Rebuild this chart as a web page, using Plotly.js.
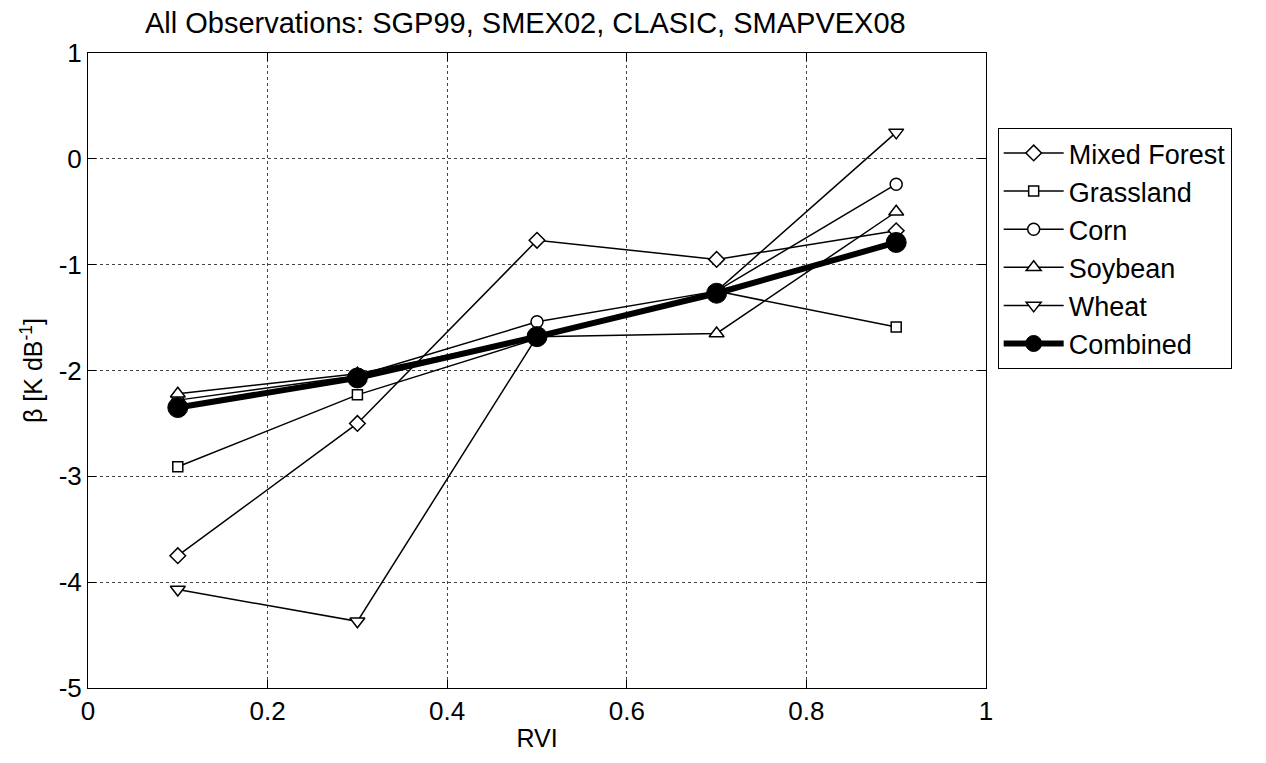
<!DOCTYPE html>
<html>
<head>
<meta charset="utf-8">
<script src="https://cdn.plot.ly/plotly-3.0.1.min.js"></script>
<style>html,body{margin:0;padding:0;background:#fff;}#chart{width:1266px;height:763px;}</style>
</head>
<body>
<div id="chart"></div>
<script>
const rvi = [0.1, 0.3, 0.5, 0.7, 0.9];
const mixedForest = [-3.75, -2.50, -0.77, -0.95, -0.68];
const grassland   = [-2.91, -2.23, -1.70, -1.25, -1.59];
const corn        = [-2.28, -2.05, -1.54, -1.25, -0.24];
const soybean     = [-2.22, -2.03, -1.68, -1.65, -0.50];
const wheat       = [-4.07, -4.37, -1.68, -1.25, 0.25];
const combined    = [-2.35, -2.07, -1.68, -1.27, -0.79];
const xTicks = [0, 0.2, 0.4, 0.6, 0.8, 1];
const xTickText = ['0', '0.2', '0.4', '0.6', '0.8', '1'];
const yTicks = [-5, -4, -3, -2, -1, 0, 1];
const yTickText = ['-5', '-4', '-3', '-2', '-1', '0', '1'];

function thin(name, y, symbol, size) {
  return {
    x: rvi, y: y, name: name, type: 'scatter', mode: 'lines+markers',
    line: {color: '#000', width: 1.5},
    marker: {symbol: symbol, size: size, color: '#fff', line: {color: '#000', width: 1.5}}
  };
}
const traces = [
  thin('Mixed Forest', mixedForest, 'diamond', 12),
  thin('Grassland', grassland, 'square', 10),
  thin('Corn', corn, 'circle', 12),
  thin('Soybean', soybean, 'triangle-up', 13),
  thin('Wheat', wheat, 'triangle-down', 13),
  {x: rvi, y: combined, name: 'Combined', type: 'scatter', mode: 'lines+markers',
   line: {color: '#000', width: 6},
   marker: {symbol: 'circle', size: 20, color: '#000', line: {color: '#000', width: 1}}}
];

const axisCommon = {
  showline: true, linecolor: '#000', linewidth: 1, mirror: 'ticks',
  ticks: 'inside', ticklen: 8, tickcolor: '#000', tickwidth: 1,
  showgrid: true, gridcolor: '#444', gridwidth: 1, griddash: 'dot',
  zeroline: false,
  tickfont: {family: 'Liberation Sans, Arial, sans-serif', size: 26, color: '#000'}
};

const layout = {
  width: 1266, height: 763,
  margin: {l: 88, r: 280, t: 53, b: 75},
  paper_bgcolor: '#fff', plot_bgcolor: '#fff',
  font: {family: 'Liberation Sans, Arial, sans-serif', color: '#000'},
  title: {text: 'All Observations: SGP99, SMEX02, CLASIC, SMAPVEX08',
          font: {size: 29, color: '#000'}, xref: 'paper', x: 0.487, xanchor: 'center',
          yref: 'container', y: 0.97, yanchor: 'middle'},
  xaxis: Object.assign({}, axisCommon, {
    range: [0, 1], tickvals: xTicks, ticktext: xTickText,
    title: {text: 'RVI', font: {size: 25, color: '#000'}, standoff: 4}
  }),
  yaxis: Object.assign({}, axisCommon, {
    range: [-5, 1], tickvals: yTicks, ticktext: yTickText,
    title: {text: 'β [K dB<sup>-1</sup>]', font: {size: 25, color: '#000'}, standoff: 8}
  }),
  legend: {
    x: 1.013, xanchor: 'left', y: 0.882, yanchor: 'top',
    bordercolor: '#000', borderwidth: 1, bgcolor: '#fff',
    font: {size: 27, color: '#000'}, itemwidth: 60, tracegroupgap: 0
  },
  showlegend: true
};

Plotly.newPlot('chart', traces, layout, {displayModeBar: false, staticPlot: true});
</script>
</body>
</html>
